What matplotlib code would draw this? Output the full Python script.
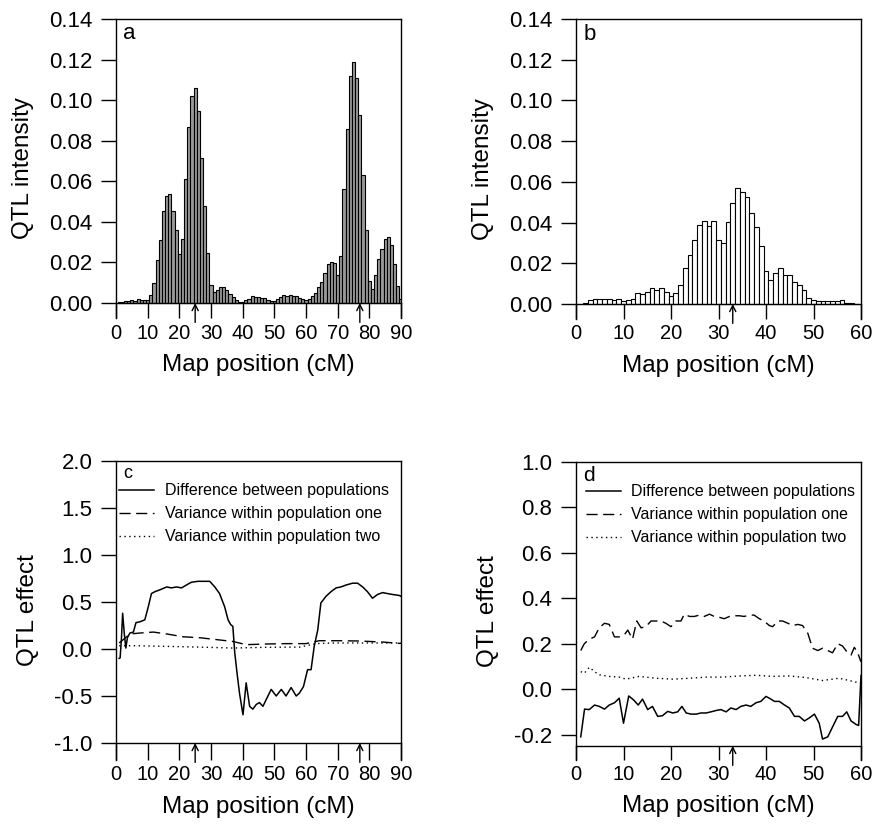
import numpy as np
import matplotlib
matplotlib.use("Agg")
import matplotlib.pyplot as plt
from matplotlib.ticker import FormatStrFormatter

plt.rcParams['font.family'] = ['Liberation Sans', 'DejaVu Sans']
plt.rcParams['axes.unicode_minus'] = False

# --- QTL intensity, chromosome one (1 cM bins, positions 1..90)
pos_a = np.arange(1, 91)
int_a = [0.0003, 0.0005, 0.0008, 0.0012, 0.0015, 0.0012, 0.0018, 0.0017, 0.0016, 0.0015,
         0.004, 0.010, 0.021, 0.031, 0.0455, 0.0526, 0.0537, 0.0455, 0.036, 0.024,
         0.0316, 0.061, 0.087, 0.102, 0.106, 0.0945, 0.0715, 0.048, 0.0245, 0.0089,
         0.0056, 0.0064, 0.008, 0.0077, 0.0064, 0.0044, 0.0028, 0.0015, 0.0007, 0.0003,
         0.0015, 0.0018, 0.0036, 0.003, 0.003, 0.0023, 0.0023, 0.0015, 0.0008, 0.0011,
         0.0021, 0.0028, 0.0039, 0.0033, 0.004, 0.0036, 0.0036, 0.0025, 0.0018, 0.0016,
         0.0022, 0.0035, 0.005, 0.008, 0.0105, 0.015, 0.0194, 0.020, 0.0197, 0.0136,
         0.023, 0.056, 0.086, 0.112, 0.119, 0.111, 0.0925, 0.063, 0.036, 0.011,
         0.007, 0.0136, 0.0217, 0.0266, 0.0316, 0.0325, 0.0288, 0.019, 0.0085, 0.002]

# --- QTL intensity, chromosome two (positions 2..59)
pos_b = np.arange(2, 60)
int_b = [0.0005, 0.0018, 0.0026, 0.0023, 0.0023, 0.0023, 0.0018, 0.0023, 0.0013, 0.0018,
         0.0026, 0.0052, 0.0047, 0.006, 0.0077, 0.007, 0.0077, 0.0057, 0.0038, 0.0054,
         0.0093, 0.0175, 0.0239, 0.0316, 0.0388, 0.0406, 0.0384, 0.0406, 0.0316, 0.030,
         0.0404, 0.0496, 0.0572, 0.0548, 0.0523, 0.0447, 0.0376, 0.0285, 0.016, 0.012,
         0.0152, 0.0177, 0.0144, 0.0142, 0.011, 0.0095, 0.007, 0.0031, 0.0021, 0.0013,
         0.0013, 0.0013, 0.0016, 0.0016, 0.0018, 0.0007, 0.0005, 0.0002]

# true QTL positions (arrows under the axis)
qtl_a = [25, 77]
qtl_b = [33]

# --- QTL effects, chromosome one
diff_c_x = [1, 1.3, 1.7, 2.1, 2.6, 3.1, 3.6, 4.4, 5.5, 6.3, 7.6, 9.1, 10.2, 11.2, 12.3,
            13.9, 16, 17.5, 19.1, 20.7, 22.2, 23.8, 25.9, 28, 29.6, 31.2, 32.7, 34.3, 35.4,
            36.2, 36.9, 37.5, 38.2, 39, 40.1, 41.1, 42.2, 43.2, 44.3, 45.3, 46.4, 47.4, 49,
            50.6, 52.2, 53.7, 55.3, 56.9, 57.9, 59.2, 60.5, 61.6, 62.6, 63.7, 64.7, 66.3,
            67.9, 69.5, 71, 72.6, 74.7, 76.3, 77.9, 79.4, 81, 82.6, 84.2, 85.7, 87.3, 89.4, 90]
diff_c = [-0.1, -0.095, 0.1, 0.38, 0.17, 0.01, 0.12, 0.17, 0.18, 0.28, 0.29, 0.31, 0.45, 0.59,
          0.61, 0.63, 0.66, 0.65, 0.66, 0.65, 0.68, 0.71, 0.72, 0.72, 0.72, 0.66, 0.59, 0.45,
          0.31, 0.26, 0.24, -0.04, -0.25, -0.47, -0.70, -0.36, -0.61, -0.64, -0.59, -0.57,
          -0.61, -0.54, -0.43, -0.50, -0.43, -0.50, -0.41, -0.50, -0.47, -0.40, -0.22, -0.22,
          0.03, 0.2, 0.49, 0.56, 0.61, 0.65, 0.66, 0.68, 0.70, 0.70, 0.66, 0.61, 0.54, 0.58,
          0.60, 0.59, 0.58, 0.57, 0.56]
var1_c_x = [1, 2.3, 4.4, 7.6, 11.8, 16, 21.2, 26.4, 31.7, 36.9, 41.1, 47.4, 53.7, 60,
            64.2, 70.5, 76.8, 84.2, 89.4, 90]
var1_c = [0.064, 0.1, 0.16, 0.17, 0.18, 0.16, 0.13, 0.12, 0.10, 0.08, 0.046, 0.053, 0.057,
          0.057, 0.088, 0.088, 0.085, 0.074, 0.06, 0.06]
var2_c_x = [1, 5.5, 16, 26.4, 36.9, 47.4, 58, 63.2, 68.4, 79, 90]
var2_c = [0.035, 0.035, 0.028, 0.02, 0.01, 0.018, 0.02, 0.057, 0.064, 0.064, 0.064]

# --- QTL effects, chromosome two
diff_d_x = [1, 1.8, 2.8, 3.9, 4.9, 6, 7, 8.1, 9.1, 10, 11.1, 12.1, 13.1, 14, 15.1, 16.1,
            17.2, 18.2, 19.3, 20.4, 21.4, 22.3, 23.2, 24.2, 25.3, 26.3, 27.4, 28.4, 29.5,
            30.5, 31.6, 32.6, 33.7, 34.7, 35.8, 36.8, 37.9, 38.9, 40, 40.7, 41.8, 42.8, 43.9,
            44.9, 46, 47, 48.1, 49.1, 50.2, 51.2, 51.9, 53, 54, 55.1, 56.1, 57, 57.9, 59, 59.5, 60]
diff_d = [-0.21, -0.088, -0.09, -0.07, -0.076, -0.088, -0.07, -0.06, -0.04, -0.15, -0.03,
          -0.047, -0.07, -0.044, -0.09, -0.076, -0.12, -0.117, -0.098, -0.105, -0.10, -0.076,
          -0.105, -0.11, -0.11, -0.105, -0.105, -0.10, -0.094, -0.09, -0.10, -0.083, -0.09,
          -0.076, -0.07, -0.076, -0.06, -0.054, -0.032, -0.04, -0.054, -0.054, -0.07, -0.083,
          -0.12, -0.12, -0.14, -0.127, -0.11, -0.15, -0.22, -0.21, -0.167, -0.12, -0.12,
          -0.10, -0.14, -0.156, -0.16, 0.06]
var1_d_x = [1, 1.75, 2.8, 3.9, 4.9, 6, 7, 8.1, 9.1, 10.2, 10.9, 11.9, 12.8, 13.7, 14.7, 15.8,
            16.8, 17.9, 18.9, 20, 21, 22.1, 22.8, 23.9, 24.9, 26, 27, 28.1, 29.1, 30.2, 31.2,
            32.3, 33.3, 34.4, 35.4, 36.5, 37.5, 38.6, 39.6, 40.7, 41.4, 42.5, 43.5, 44.6, 45.6,
            46.7, 47.7, 48.8, 49.8, 50.9, 51.9, 53, 54, 55.1, 56.1, 57.2, 57.9, 58.6, 59.3, 60]
var1_d = [0.17, 0.2, 0.22, 0.23, 0.27, 0.29, 0.285, 0.23, 0.23, 0.24, 0.26, 0.22, 0.30, 0.27,
          0.275, 0.30, 0.30, 0.30, 0.29, 0.275, 0.30, 0.30, 0.33, 0.32, 0.32, 0.326, 0.32,
          0.33, 0.32, 0.316, 0.31, 0.32, 0.323, 0.323, 0.32, 0.326, 0.326, 0.31, 0.30, 0.28,
          0.275, 0.30, 0.30, 0.29, 0.28, 0.285, 0.28, 0.246, 0.18, 0.17, 0.18, 0.17, 0.16,
          0.20, 0.19, 0.16, 0.15, 0.184, 0.16, 0.12]
var2_d_x = [1, 1.75, 2.8, 3.9, 4.9, 7, 9.1, 10.5, 13.3, 16.8, 20.4, 23.9, 27.4, 30.9, 34.4,
            37.9, 41.4, 44.9, 48.4, 51.9, 55.4, 60]
var2_d = [0.077, 0.07, 0.096, 0.077, 0.063, 0.056, 0.053, 0.044, 0.056, 0.048, 0.044, 0.048,
          0.053, 0.053, 0.058, 0.061, 0.056, 0.058, 0.051, 0.038, 0.048, 0.026]

legend_labels = ["Difference between populations",
                 "Variance within population one",
                 "Variance within population two"]

W, H = 874, 839
fig = plt.figure(figsize=(W / 100, H / 100), dpi=100)


def make_axes(left, top, right, bottom):
    return fig.add_axes([left / W, 1 - bottom / H, (right - left) / W, (bottom - top) / H])


def style_axes(ax, xmax, ylo, ytop, base, yticks, fmt, ticklen, letter, letter_size, ylabel):
    ax.set_xlim(0, xmax)
    ax.set_ylim(ylo, ytop)
    ax.spines['bottom'].set_position(('data', base))
    for s in ax.spines.values():
        s.set_linewidth(1.0)
    ax.set_xticks(np.arange(0, xmax + 1, 10))
    ax.set_yticks(yticks)
    ax.yaxis.set_major_formatter(FormatStrFormatter(fmt))
    ax.tick_params(axis='x', direction='out', length=ticklen, width=1, labelsize=14.5, pad=4)
    ax.tick_params(axis='y', direction='out', length=11, width=1, labelsize=16, pad=6)
    ax.set_xlabel("Map position (cM)", fontsize=17.5, labelpad=8)
    ax.set_ylabel(ylabel, fontsize=17.5, labelpad=11)
    ax.text(0.025, 0.985, letter, transform=ax.transAxes, ha='left', va='top',
            fontsize=letter_size)


def qtl_arrows(ax, positions, base):
    for q in positions:
        ax.annotate('', xy=(q, base), xycoords='data', xytext=(0, -14),
                    textcoords='offset points', annotation_clip=False,
                    arrowprops=dict(arrowstyle='->', color='black', lw=1.0,
                                    shrinkA=0, shrinkB=0, mutation_scale=11))


# panel a
ax_a = make_axes(116, 19, 401, 318)
ax_a.bar(pos_a, int_a, width=1.0, color='0.6', edgecolor='black', linewidth=0.8)
style_axes(ax_a, 90, -0.0074, 0.14, 0, np.arange(0, 0.141, 0.02), '%.2f', 10.8,
           'a', 16, "QTL intensity")
qtl_arrows(ax_a, qtl_a, 0)

# panel b
ax_b = make_axes(576, 19, 861, 319)
ax_b.bar(pos_b, int_b, width=1.0, color='white', edgecolor='black', linewidth=0.8)
style_axes(ax_b, 60, -0.0074, 0.14, 0, np.arange(0, 0.141, 0.02), '%.2f', 10.8,
           'b', 16, "QTL intensity")
qtl_arrows(ax_b, qtl_b, 0)

# panel c
ax_c = make_axes(116, 461, 401, 760)
ax_c.plot(diff_c_x, diff_c, color='black', lw=1.1, label=legend_labels[0])
ax_c.plot(var1_c_x, var1_c, color='black', lw=1.0, ls=(0, (8, 4)), label=legend_labels[1])
ax_c.plot(var2_c_x, var2_c, color='black', lw=1.0, ls=(0, (1, 2.5)), label=legend_labels[2])
style_axes(ax_c, 90, -1.181, 2.0, -1.0, np.arange(-1.0, 2.01, 0.5), '%.1f', 12.2,
           'c', 13, "QTL effect")
qtl_arrows(ax_c, qtl_a, -1.0)
ax_c.legend(loc='upper left', bbox_to_anchor=(0.01, 0.925), frameon=False, fontsize=11.5,
            handlelength=2.2, handletextpad=0.7, labelspacing=0.5, borderpad=0,
            borderaxespad=0)

# panel d
ax_d = make_axes(576, 462, 861, 760)
ax_d.plot(diff_d_x, diff_d, color='black', lw=1.1, label=legend_labels[0])
ax_d.plot(var1_d_x, var1_d, color='black', lw=1.0, ls=(0, (8, 4)), label=legend_labels[1])
ax_d.plot(var2_d_x, var2_d, color='black', lw=1.0, ls=(0, (1, 2.5)), label=legend_labels[2])
style_axes(ax_d, 60, -0.312, 1.0, -0.25, np.arange(-0.2, 1.01, 0.2), '%.1f', 10,
           'd', 15, "QTL effect")
qtl_arrows(ax_d, qtl_b, -0.25)
ax_d.legend(loc='upper left', bbox_to_anchor=(0.035, 0.925), frameon=False, fontsize=11.5,
            handlelength=2.2, handletextpad=0.6, labelspacing=0.5, borderpad=0,
            borderaxespad=0)

fig.savefig("out.png", dpi=100)
